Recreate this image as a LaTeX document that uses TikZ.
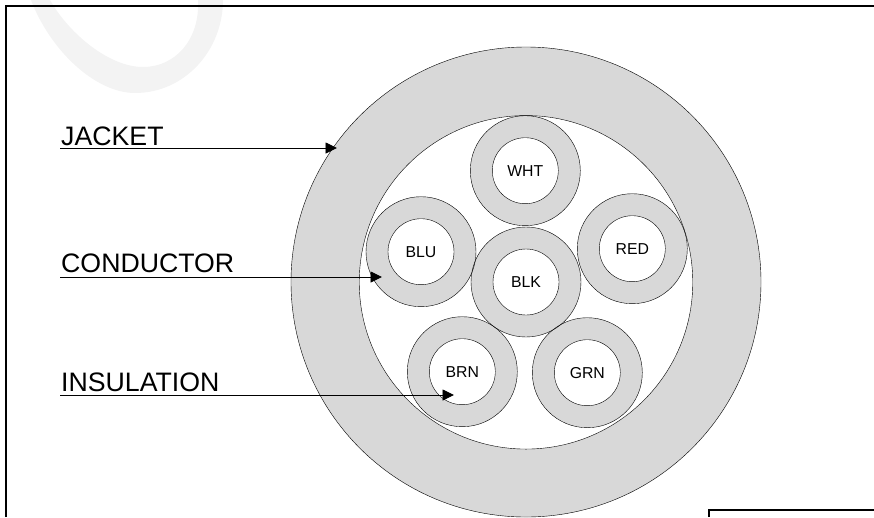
\documentclass[tikz,border=0pt]{standalone}
\usepackage{fontspec}
\setmainfont{Liberation Sans}
\usetikzlibrary{arrows.meta, positioning}
\definecolor{sheathgray}{HTML}{D8D8D8}
\definecolor{markgray}{HTML}{F3F3F3}
\tikzstyle{jacketbody} = [
  circle,
  minimum size=470pt,
  inner sep=0pt,
  draw=black,
  fill=sheathgray
]
\tikzstyle{cavity} = [
  circle,
  minimum size=333.5pt,
  inner sep=0pt,
  fill=white
]
\tikzstyle{ring} = [
  circle,
  minimum size=110pt,
  inner sep=0pt,
  fill=sheathgray
]
\tikzstyle{outline} = [
  circle,
  inner sep=0pt,
  draw=black
]
\tikzstyle{core} = [
  circle,
  minimum size=66pt,
  inner sep=0pt,
  text centered,
  draw=black,
  fill=white,
  font=\fontsize{15.8}{18}\selectfont
]
\tikzstyle{callout} = [
  anchor=south west,
  inner xsep=1pt,
  text depth=0pt,
  font=\fontsize{26.7}{30}\selectfont
]
\tikzstyle{arrow} = [line width=0.9pt, -{Triangle[length=11.5pt,width=11pt]}]
\tikzstyle{frame} = [line width=2pt]

\begin{document}
\begin{tikzpicture}[x=1pt, y=-1pt]
    \useasboundingbox (0,0) rectangle (874,517);
    \clip (0,0) rectangle (874,517);

    % faint mark behind the sheet
    \fill [markgray] (31,0) .. controls (50,50) and (95,93) .. (135,93)
      .. controls (185,93) and (223,50) .. (223,0) -- (198,0)
      .. controls (200,40) and (175,67) .. (143,67)
      .. controls (110,67) and (70,35) .. (50,0) -- cycle;

    \draw [frame] (6,517) |- (874,5.7);
    \draw [frame] (708.5,517) |- (874,509.5);

    \node (jacket-body) [jacketbody] at (526,282) {};
    \node (cavity) [cavity] at (526,282.3) {};

    \node (wht-ring) [ring] at (525.3,170.7) {};
    \node (blu-ring) [ring] at (421,251.7) {};
    \node (red-ring) [ring] at (632.3,248.7) {};
    \node (blk-ring) [ring] at (526,282) {};
    \node (brn-ring) [ring] at (462.3,371.7) {};
    \node (grn-ring) [ring] at (587.3,372.7) {};

    \node (cavity-line) [outline, minimum size=333.5pt] at (cavity) {};
    \foreach \wire in {wht-ring, blu-ring, red-ring, blk-ring, brn-ring, grn-ring}
      \node [outline, minimum size=110pt] at (\wire) {};

    \node (wht) [core] at (wht-ring) {WHT};
    \node (blu) [core] at (blu-ring) {BLU};
    \node (red) [core] at (red-ring) {RED};
    \node (blk) [core] at (blk-ring) {BLK};
    \node (brn) [core] at (brn-ring) {BRN};
    \node (grn) [core] at (grn-ring) {GRN};

    \node (jacket-label) [callout, inner ysep=2pt] at (60,148) {JACKET};
    \node (conductor-label) [callout, inner ysep=4pt] at (60,277) {CONDUCTOR};
    \node (insulation-label) [callout, inner ysep=3pt] at (60,395) {INSULATION};

    \coordinate (jacket-tip) at (337,148);
    \coordinate (conductor-tip) at (382,277);
    \coordinate (insulation-tip) at (454,395);

    \draw [arrow] (jacket-label.south west) -- (jacket-tip);
    \draw [arrow] (conductor-label.south west) -- (conductor-tip);
    \draw [arrow] (insulation-label.south west) -- (insulation-tip);
\end{tikzpicture}
\end{document}
